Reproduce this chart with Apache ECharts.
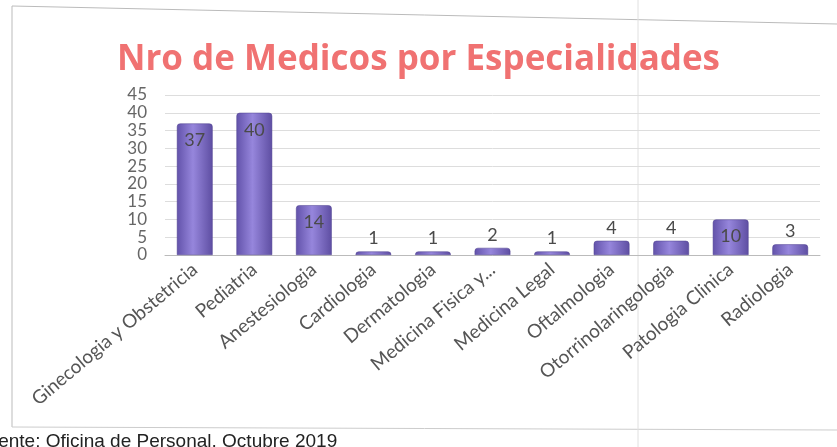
<!DOCTYPE html>
<html><head><meta charset="utf-8">
<script src="https://cdn.jsdelivr.net/npm/echarts@6/dist/echarts.min.js"></script>
<style>html,body{margin:0;padding:0;background:#fff}#c{width:837px;height:447px}</style>
</head><body><div id="c"></div>
<script>
const categories = ['Ginecologia y Obstetricia','Pediatria','Anestesiologia','Cardiologia','Dermatologia','Medicina Fisica y...','Medicina Legal','Oftalmologia','Otorrinolaringologia','Patologia Clinica','Radiologia'];
const values = [37, 40, 14, 1, 1, 2, 1, 4, 4, 10, 3];
const yTicks = [0, 5, 10, 15, 20, 25, 30, 35, 40, 45];
const titleText = 'Nro de Medicos por Especialidades';
const sourceText = 'Fuente: Oficina de Personal, Octubre 2019';

const chart = echarts.init(document.getElementById('c'));
const barColor = new echarts.graphic.LinearGradient(0, 0, 1, 0, [
  {offset: 0, color: '#6252aa'},
  {offset: 0.45, color: '#9686dc'},
  {offset: 1, color: '#5e4ea2'}
]);
chart.setOption({
  animation: false,
  title: {
    text: titleText, left: 'center', top: 38,
    textStyle: {fontFamily: 'Open Sans', fontWeight: 'bold', fontSize: 35, color: '#f07272'}
  },
  grid: {left: 165, right: 17, top: 95, bottom: 192},
  xAxis: {
    type: 'category', data: categories,
    axisLine: {lineStyle: {color: '#bbbbbb'}},
    axisTick: {show: false},
    axisLabel: {rotate: 40, interval: 0, fontFamily: 'Lato', fontSize: 19, color: '#555', margin: 12}
  },
  yAxis: {
    type: 'value', min: yTicks[0], max: yTicks[yTicks.length - 1], interval: 5,
    axisLine: {show: false}, axisTick: {show: false},
    splitLine: {lineStyle: {color: '#dddddd'}},
    axisLabel: {fontFamily: 'Lato', fontSize: 17, color: '#666', margin: 18, lineHeight: 17}
  },
  series: [{
    type: 'bar', data: values.map(v => ({
      value: v,
      label: v >= 10 ? {position: 'insideTop', distance: 8} : {position: 'top', distance: 4}
    })),
    barWidth: '60%',
    itemStyle: {color: barColor, borderRadius: [3, 3, 0, 0], borderColor: '#4d3f8f', borderWidth: 0.5},
    label: {show: true, fontFamily: 'Lato', fontSize: 18, color: '#4a4a4a'}
  }],
  graphic: [
    {type: 'polyline', shape: {points: [[12, 6], [837, 24]]}, style: {stroke: '#bbbbbb', lineWidth: 1, fill: null}, silent: true},
    {type: 'line', shape: {x1: 12, y1: 6, x2: 12, y2: 427}, style: {stroke: '#bbbbbb', lineWidth: 1}, silent: true},
    {type: 'line', shape: {x1: 12, y1: 427, x2: 837, y2: 430}, style: {stroke: '#cccccc', lineWidth: 1}, silent: true},
    {type: 'line', shape: {x1: 638, y1: 0, x2: 638, y2: 447}, style: {stroke: '#e0e0e0', lineWidth: 1}, silent: true},
    {type: 'text', left: -24, top: 432, style: {text: sourceText, fontFamily: 'Liberation Sans', fontSize: 19, fill: '#222'}, silent: true}
  ]
});
</script></body></html>
